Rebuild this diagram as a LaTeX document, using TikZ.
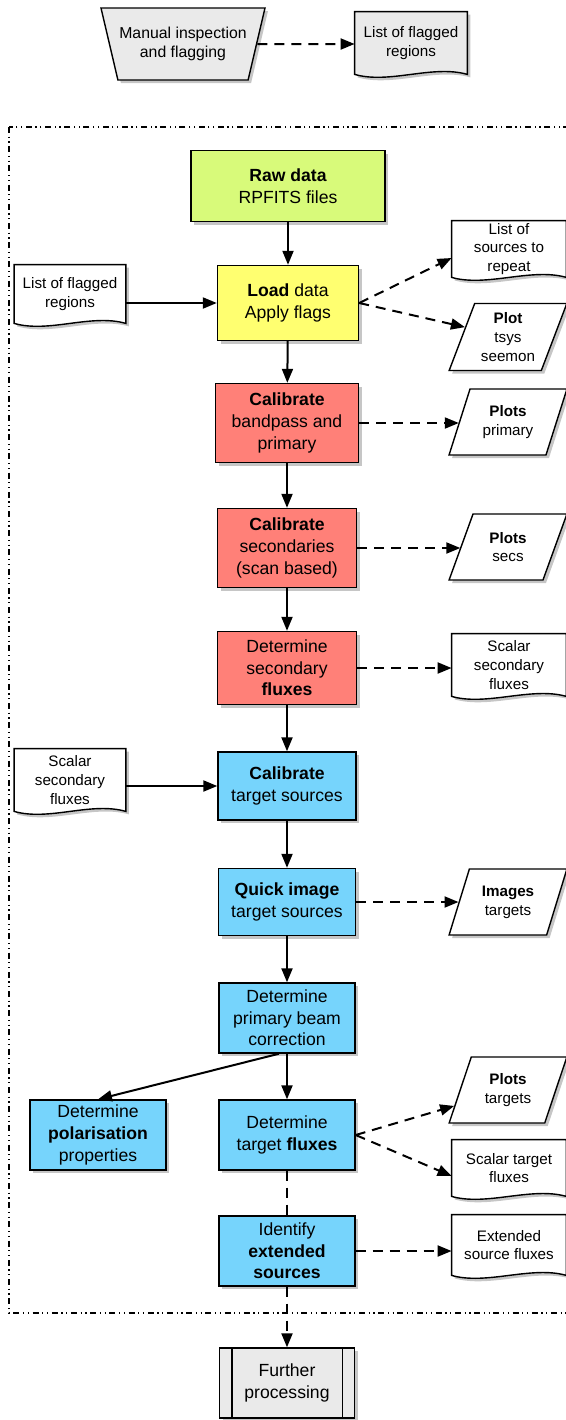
\documentclass[tikz,border=0pt]{standalone}
\usepackage{fontspec}
\setmainfont{Liberation Sans}
\usetikzlibrary{arrows.meta,shapes.geometric,shadows,backgrounds}

\definecolor{rawgreen}{RGB}{216,250,122}
\definecolor{loadyellow}{RGB}{255,255,112}
\definecolor{calred}{RGB}{255,128,120}
\definecolor{tgtblue}{RGB}{118,212,252}
\definecolor{docgray}{RGB}{234,234,234}

\tikzset{
	softshadow/.style={drop shadow={shadow xshift=1.5pt, shadow yshift=-1.5pt, opacity=0.45}},
	box/.style={rectangle, draw, line width=0.7pt, fill=#1, align=center, inner sep=0pt, font=\fontsize{8.8}{10.8}\selectfont, softshadow},
	doctext/.style={rectangle, align=center, inner sep=0pt, font=\fontsize{7.6}{9.4}\selectfont},
	plotbox/.style={trapezium, trapezium left angle=67, trapezium right angle=113, trapezium stretches=true, draw, line width=0.7pt, fill=white, align=center, inner sep=0pt, minimum width=59pt, font=\fontsize{7.6}{9.4}\selectfont, softshadow},
	flow/.style={-{Triangle[length=7pt,width=5.5pt]}, line width=1pt},
	dflow/.style={flow, dash pattern=on 5pt off 3.5pt},
	dline/.style={line width=1pt, dash pattern=on 5pt off 3.5pt},
}

\def\docshape#1#2{\draw[fill=#2, line width=0.7pt, softshadow] (#1.north west) -- (#1.north east) -- (#1.south east) .. controls +(-35,-10) and +(35,10) .. (#1.south west) -- cycle;}

\begin{document}
\begin{tikzpicture}[x=0.5pt, y=-0.5pt]
			%%%%% START %%%%%
			\useasboundingbox (0,0) rectangle (566,1420);
			
			\draw[line width=0.6pt, dash pattern=on 3pt off 1.8pt on 0.6pt off 1.8pt on 0.6pt off 1.8pt] (9,127) rectangle (620,1313);
			
			\node[trapezium, shape border rotate=180, trapezium left angle=64, trapezium right angle=64, trapezium stretches=true, draw, line width=0.7pt, fill=docgray, minimum width=82.5pt, minimum height=36pt, align=center, inner sep=0pt, font=\fontsize{7.9}{9.6}\selectfont, softshadow] (manual) at (183,44) {Manual inspection\\and flagging};
			\node[doctext, minimum width=56pt, minimum height=31pt] (flagtop) at (411,43) {List of flagged\\regions};
			
			\node[box=rawgreen, minimum width=97pt, minimum height=35.5pt] (raw) at (288,186) {\textbf{Raw data}\\RPFITS files};
			\node[box=loadyellow, minimum width=70.5pt, minimum height=37.5pt] (load) at (288,303) {\textbf{Load} data\\Apply flags};
			\node[box=calred, minimum width=71.5pt, minimum height=39.5pt] (calbp) at (287,423) {\textbf{Calibrate}\\bandpass and\\primary};
			\node[box=calred, minimum width=69.5pt, minimum height=39.5pt] (calsec) at (287,548) {\textbf{Calibrate}\\secondaries\\(scan based)};
			\node[box=calred, minimum width=69.5pt, minimum height=36.5pt] (detsec) at (287,668) {Determine\\secondary\\\textbf{fluxes}};
			\node[box=tgtblue, minimum width=69pt, minimum height=34pt] (caltgt) at (287,786) {\textbf{Calibrate}\\target sources};
			\node[box=tgtblue, minimum width=68.5pt, minimum height=33.5pt] (quick) at (287,902) {\textbf{Quick image}\\target sources};
			\node[box=tgtblue, minimum width=68pt, minimum height=35pt] (pbc) at (287,1018) {Determine\\primary beam\\correction};
			\node[box=tgtblue, minimum width=68pt, minimum height=35pt] (tfl) at (287,1135) {Determine\\target \textbf{fluxes}};
			\node[box=tgtblue, minimum width=68pt, minimum height=35pt] (ext) at (287,1251) {Identify\\\textbf{extended}\\\textbf{sources}};
			\node[box=tgtblue, minimum width=68pt, minimum height=35pt] (pol) at (98,1135) {Determine\\\textbf{polarisation}\\properties};
			\node[box=docgray, minimum width=67.5pt, minimum height=35pt] (fp) at (287,1383) {Further\\processing};
			\draw[line width=0.7pt] ([xshift=6.5pt]fp.north west) -- ([xshift=6.5pt]fp.south west);
			\draw[line width=0.7pt] ([xshift=-6.5pt]fp.north east) -- ([xshift=-6.5pt]fp.south east);
			
			\node[doctext, minimum width=55.5pt, minimum height=29pt] (flagleft) at (70,294) {List of flagged\\regions};
			\node[doctext, minimum width=55.5pt, minimum height=31pt] (secleft) at (70,780) {Scalar\\secondary\\fluxes};
			\node[doctext, minimum width=57pt, minimum height=28pt] (repeat) at (509,249) {List of\\sources to\\repeat};
			\node[doctext, minimum width=57pt, minimum height=31pt] (secright) at (509,665) {Scalar\\secondary\\fluxes};
			\node[doctext, minimum width=57pt, minimum height=28pt] (stf) at (509,1168) {Scalar target\\fluxes};
			\node[doctext, minimum width=57pt, minimum height=30pt] (esf) at (509,1245) {Extended\\source fluxes};
			
			\node[plotbox, minimum height=33.5pt] (tsys) at (508,337) {\textbf{Plot}\\tsys\\seemon};
			\node[plotbox, minimum height=33pt] (pprim) at (508,422) {\textbf{Plots}\\primary};
			\node[plotbox, minimum height=33pt] (psecs) at (508,547) {\textbf{Plots}\\secs};
			\node[plotbox, minimum height=33pt] (imgs) at (508,902) {\textbf{Images}\\targets};
			\node[plotbox, minimum height=33pt] (ptgt) at (508,1090) {\textbf{Plots}\\targets};
			
			\begin{pgfonlayer}{background}
				\docshape{flagtop}{docgray}
				\docshape{flagleft}{white}
				\docshape{secleft}{white}
				\docshape{repeat}{white}
				\docshape{secright}{white}
				\docshape{stf}{white}
				\docshape{esf}{white}
			\end{pgfonlayer}
			
			\draw[dflow] (manual) -- (manual -| flagtop.west);
			
			\draw[flow] (raw) -- (load);
			\draw[flow] (load) -- (calbp);
			\draw[flow] (calbp) -- (calsec);
			\draw[flow] (calsec) -- (detsec);
			\draw[flow] (detsec) -- (caltgt);
			\draw[flow] (caltgt) -- (quick);
			\draw[flow] (quick) -- (pbc);
			\draw[flow] (pbc) -- (tfl);
			\draw[flow] ([xshift=-4pt]pbc.south) -- (pol.north);
			\draw[dline] (tfl) -- (ext);
			\draw[dflow] (ext) -- (fp);
			
			\draw[flow] (flagleft.east |- load.west) -- (load.west);
			\draw[flow] (secleft.east |- caltgt.west) -- (caltgt.west);
			
			\draw[dflow] (load.east) -- ([yshift=-4.5pt]repeat.west);
			\draw[dflow] (load.east) -- (tsys);
			\draw[dflow] (calbp.east) -- (calbp.east -| pprim.west);
			\draw[dflow] (calsec.east) -- (calsec.east -| psecs.west);
			\draw[dflow] (detsec.east) -- (detsec.east -| secright.west);
			\draw[dflow] (quick.east) -- (quick.east -| imgs.west);
			\draw[dflow] (tfl.east) -- (ptgt);
			\draw[dflow] (tfl.east) -- ([yshift=-4pt]stf.west);
			\draw[dflow] (ext.east) -- (ext.east -| esf.west);
			
			%%%%% END %%%%%
\end{tikzpicture}
\end{document}
